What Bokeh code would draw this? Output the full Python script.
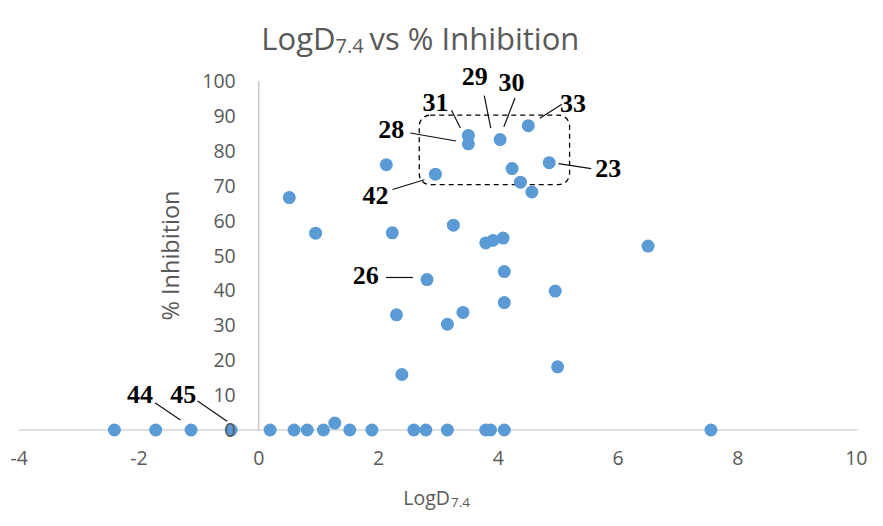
from bokeh.plotting import figure
from bokeh.models import Range1d, LinearAxis, FixedTicker, Label
from bokeh.core.properties import value
from bokeh.embed import file_html
from bokeh.resources import INLINE

# ---------------- data ----------------
logd = [0.51, 0.95, 2.13, 2.23, 2.95, 2.81, 3.50, 3.50, 4.03, 4.50, 4.85, 4.23,
        4.37, 4.56, 3.25, 3.79, 3.91, 4.08, 6.50, 4.10, 4.95, 4.10, 3.41, 3.15,
        2.30, 2.39, 4.99, 1.27,
        -2.41, -1.72, -1.13, -0.46, 0.19, 0.59, 0.81, 1.08, 1.52, 1.89, 2.59,
        2.79, 3.15, 3.79, 3.87, 4.10, 7.55]
inhibition = [66.6, 56.4, 76.0, 56.5, 73.3, 43.1, 84.4, 82.0, 83.2, 87.2, 76.6, 74.9,
              71.0, 68.2, 58.7, 53.6, 54.3, 55.0, 52.7, 45.4, 39.8, 36.5, 33.7, 30.3,
              33.0, 15.9, 18.1, 2.0,
              0, 0, 0, 0, 0, 0, 0, 0, 0, 0, 0,
              0, 0, 0, 0, 0, 0]

x_ticks = [-4, -2, 0, 2, 4, 6, 8, 10]
x_tick_labels = ["-4", "-2", "0", "2", "4", "6", "8", "10"]
y_ticks = [0, 10, 20, 30, 40, 50, 60, 70, 80, 90, 100]

# callout labels (compound numbers) and their leader lines, in data units
callout_text = ["31", "29", "30", "33", "28", "23", "42", "26", "44", "45"]
callout_x = [2.951, 3.607, 4.221, 5.246, 2.213, 5.836, 1.951, 1.787, -1.984, -1.262]
callout_y = [93.9, 101.4, 99.7, 93.6, 86.1, 75.0, 67.2, 44.2, 10.3, 10.3]
leader_x0 = [3.218, 3.766, 4.279, 5.061, 2.530, 5.005, 2.234, 2.126, -1.733, -1.021]
leader_y0 = [91.6, 95.8, 95.1, 93.3, 85.1, 76.3, 68.9, 43.7, 7.8, 8.3]
leader_x1 = [3.366, 3.874, 4.093, 4.693, 3.295, 5.552, 2.766, 2.574, -1.307, -0.530]
leader_y1 = [86.5, 86.5, 86.9, 89.3, 82.8, 74.9, 71.7, 43.7, 2.9, 2.5]
box_left, box_right, box_bottom, box_top = 2.68, 5.19, 70.3, 90.2

# ---------------- layout ----------------
W, H = 867, 510
SX, SY = W / 883, H / 526        # reference-to-canvas scale
PX_X, PX_Y = 61.0 * SX, 3.6 * SY  # pixels per data unit
ORIGIN = (263 * SX, 443 * SY)     # pixel position of (0, 0) from top-left
x0 = -ORIGIN[0] / PX_X
x1 = x0 + W / PX_X
y1 = ORIGIN[1] / PX_Y
y0 = y1 - H / PX_Y

GRAY = "#595959"
FONT = "Open Sans"

p = figure(width=W, height=H, x_range=Range1d(x0, x1), y_range=Range1d(y0, y1),
           output_backend="svg", toolbar_location=None, min_border=0,
           x_axis_type=None, y_axis_type=None, title=None)
p.outline_line_color = None
p.background_fill_color = "white"

# axis lines (under the markers)
p.segment(x0=[x_ticks[0], 0], y0=[0, y_ticks[0]], x1=[x_ticks[-1], 0], y1=[0, y_ticks[-1]],
          line_color="#BFBFBF", line_width=1.2)

# dashed rounded callout box
p.quad(left=[box_left], right=[box_right], bottom=[box_bottom], top=[box_top],
       fill_color=None, line_color="black", line_width=1.3, line_dash="5 4",
       border_radius=11)

# leader lines
p.segment(x0=leader_x0, y0=leader_y0, x1=leader_x1, y1=leader_y1,
          line_color="#111111", line_width=1.2)

# markers
p.scatter(logd, inhibition, size=13, fill_color="#5B9BD5", line_color=None)

# callout numbers
p.text(x=callout_x, y=callout_y, text=callout_text,
       text_font=value("Liberation Serif"), text_font_style="bold",
       text_font_size="26px", text_color="black",
       text_align="center", text_baseline="middle")

# axes crossing at zero
xa = LinearAxis(fixed_location=0, ticker=FixedTicker(ticks=x_ticks))
xa.major_label_overrides = dict(zip(x_ticks, x_tick_labels))
ya = LinearAxis(fixed_location=0, ticker=FixedTicker(ticks=y_ticks))
for ax in (xa, ya):
    ax.axis_line_color = None
    ax.major_tick_line_color = None
    ax.minor_tick_line_color = None
    ax.major_label_text_font = FONT
    ax.major_label_text_font_size = "19.5px"
    ax.major_label_text_color = GRAY
xa.major_label_standoff = 15
ya.major_label_standoff = 17
p.add_layout(xa, "below")
p.add_layout(ya, "left")

def lab(x, y, text, size, align="left"):
    p.add_layout(Label(x=x, y=H - y, x_units="screen", y_units="screen", text=text,
                       text_font=FONT, text_font_size=size, text_color=GRAY,
                       text_baseline="alphabetic", text_align=align))

# title with subscript
lab(335, 37, "LogD", "31px", "right")
lab(335, 45.5, "7.4", "20px")
lab(369, 37, "vs % Inhibition", "31px")

# x axis title with subscript
lab(449.5, 497, "LogD", "19.5px", "right")
lab(450.5, 502, "7.4", "13.5px")

# y axis title
p.add_layout(Label(x=-1.475, y=50, text="% Inhibition", angle=90, angle_units="deg",
                   text_font=FONT, text_font_size="23.5px", text_color=GRAY,
                   text_align="center", text_baseline="middle"))

open("out.html", "w").write(file_html(p, INLINE))
